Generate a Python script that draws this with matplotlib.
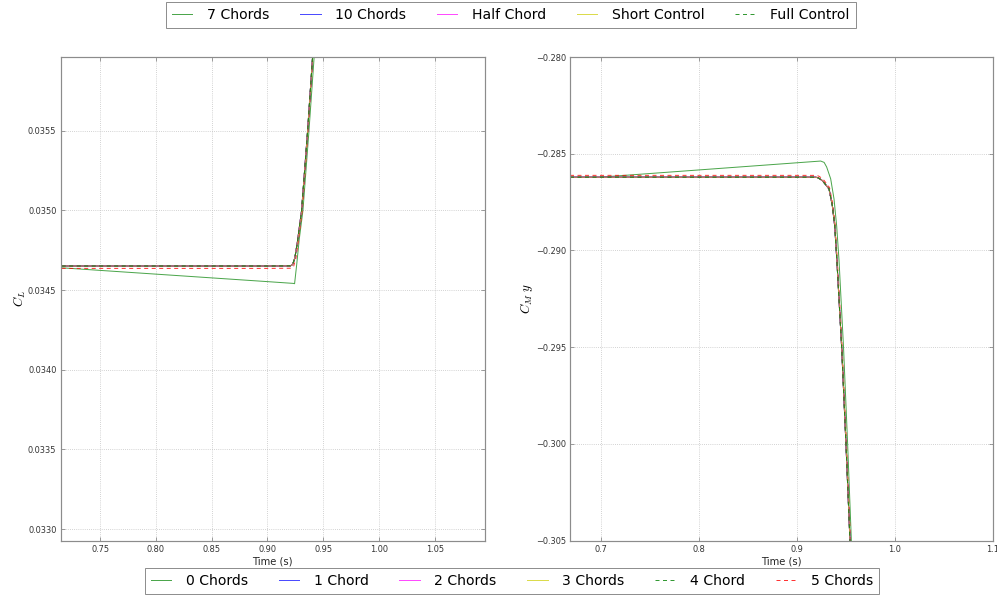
import matplotlib
matplotlib.use("Agg")
import matplotlib.pyplot as plt
from matplotlib.ticker import FuncFormatter, MultipleLocator

plt.rcParams['font.family'] = ['DejaVu Sans']
plt.rcParams['mathtext.fontset'] = 'cm'

# ---- lift coefficient traces -------------------------------------------
# shared by the converged runs (1, 2, 3, 4, 7, 10 chords, half chord, controls)
t_cl_conv = [0.6684, 0.8000, 0.9000, 0.9205, 0.9225, 0.9245, 0.9268, 0.9306, 0.9360, 0.9408, 0.9450]
cl_conv = [0.034651, 0.034651, 0.034651, 0.034652, 0.034660, 0.034700, 0.034800, 0.035000, 0.035500, 0.036000, 0.036450]

t_cl_0 = [0.7000, 0.8000, 0.9000, 0.9230, 0.9243, 0.9262, 0.9285, 0.9318, 0.9372, 0.9422, 0.9460]
cl_0 = [0.034647, 0.034600, 0.034553, 0.034542, 0.034540, 0.034660, 0.034820, 0.035000, 0.035500, 0.036000, 0.036380]

t_cl_5 = [0.6684, 0.8000, 0.9000, 0.9210, 0.9235, 0.9255, 0.9275, 0.9312, 0.9364, 0.9411, 0.9450]
cl_5 = [0.034636, 0.034636, 0.034636, 0.034637, 0.034650, 0.034700, 0.034800, 0.035000, 0.035500, 0.036000, 0.036410]

# ---- pitching moment traces --------------------------------------------
t_cm_conv = [0.6684, 0.8000, 0.9000, 0.9195, 0.9220, 0.9262, 0.9330, 0.9364, 0.9388, 0.9410, 0.9459, 0.9503, 0.9548]
cm_conv = [-0.286214, -0.286214, -0.286214, -0.286215, -0.28625, -0.28639, -0.28682, -0.28769, -0.28873, -0.29050, -0.29500, -0.30000, -0.30550]

t_cm_0 = [0.7000, 0.8000, 0.9000, 0.9245, 0.9280, 0.9306, 0.9347, 0.9381, 0.9408, 0.9432, 0.9478, 0.9520, 0.9562]
cm_0 = [-0.286210, -0.285840, -0.285470, -0.285380, -0.285450, -0.285690, -0.286300, -0.287340, -0.288730, -0.290500, -0.295000, -0.300000, -0.305500]

t_cm_5 = [0.6684, 0.8000, 0.9000, 0.9200, 0.9225, 0.9267, 0.9335, 0.9369, 0.9393, 0.9415, 0.9464, 0.9508, 0.9553]
cm_5 = [-0.286120, -0.286120, -0.286120, -0.286121, -0.28616, -0.28630, -0.28675, -0.28762, -0.28868, -0.29050, -0.29500, -0.30000, -0.30550]

# run names, line styles and which trace each run follows
bottom_names = ["0 Chords", "1 Chord", "2 Chords", "3 Chords", "4 Chord", "5 Chords"]
bottom_styles = [("g", "-"), ("b", "-"), ("m", "-"), ("y", "-"), ("g", "--"), ("r", "--")]
bottom_traces = ["0", "conv", "conv", "conv", "conv", "5"]

top_names = ["7 Chords", "10 Chords", "Half Chord", "Short Control", "Full Control"]
top_styles = [("g", "-"), ("b", "-"), ("m", "-"), ("y", "-"), ("g", "--")]
top_traces = ["conv", "conv", "conv", "conv", "conv"]

cl_data = {"conv": (t_cl_conv, cl_conv), "0": (t_cl_0, cl_0), "5": (t_cl_5, cl_5)}
cm_data = {"conv": (t_cm_conv, cm_conv), "0": (t_cm_0, cm_0), "5": (t_cm_5, cm_5)}

colors = {"g": "#008000", "b": "#0000ff", "m": "#ff00ff", "y": "#cccc00", "r": "#ff0000"}

W, H, DPI = 997, 596, 72
fig = plt.figure(figsize=(W / DPI, H / DPI), dpi=DPI)
fig.patch.set_facecolor("white")

ax_cl = fig.add_axes([60.5 / W, 1 - 540.5 / H, (484.5 - 60.5) / W, (540.5 - 57) / H])
ax_cm = fig.add_axes([570 / W, 1 - 540.5 / H, (992.5 - 570) / W, (540.5 - 57) / H])


def line_kw(style):
    c, ls = style
    kw = dict(color=colors[c], lw=1.0, alpha=0.7)
    if ls == "--":
        kw.update(ls=(0, (4, 3.5)), alpha=0.8)
    return kw


bottom_handles, top_handles = [], []
groups = [(bottom_names, bottom_styles, bottom_traces, bottom_handles),
          (top_names, top_styles, top_traces, top_handles)]
for names, styles, traces, store in groups:
    for name, style, trace in zip(names, styles, traces):
        t, v = cl_data[trace]
        (ln,) = ax_cl.plot(t, v, label=name, **line_kw(style))
        t, v = cm_data[trace]
        ax_cm.plot(t, v, label=name, **line_kw(style))
        store.append(ln)


def minus_fmt(fmt):
    return FuncFormatter(lambda v, p: fmt.format(v).replace("-", "\u2212"))


for ax in (ax_cl, ax_cm):
    ax.grid(True, color="0.75", ls=":", lw=0.8)
    ax.set_axisbelow(True)
    for sp in ax.spines.values():
        sp.set_color("0.55")
        sp.set_linewidth(1.2)
    ax.tick_params(direction="in", top=True, right=True, length=4, width=0.6,
                   color="0.4", labelsize=8.3, labelcolor="0.2", pad=4)
    ax.set_xlabel("Time (s)", fontsize=10, color="0.15", labelpad=3)

ax_cl.set_xlim(0.7144, 1.0946)
ax_cl.set_ylim(0.032928, 0.035963)
ax_cl.xaxis.set_major_locator(MultipleLocator(0.05))
ax_cl.yaxis.set_major_locator(MultipleLocator(0.0005))
ax_cl.xaxis.set_major_formatter(minus_fmt("{:.2f}"))
ax_cl.yaxis.set_major_formatter(minus_fmt("{:.4f}"))
ax_cl.set_ylabel("$C_L$", fontsize=13)
ax_cl.yaxis.set_label_coords(-0.077, 0.5)

ax_cm.set_xlim(0.6684, 1.1)
ax_cm.set_ylim(-0.305, -0.280)
ax_cm.xaxis.set_major_locator(MultipleLocator(0.1))
ax_cm.yaxis.set_major_locator(MultipleLocator(0.005))
ax_cm.xaxis.set_major_formatter(minus_fmt("{:.1f}"))
ax_cm.yaxis.set_major_formatter(minus_fmt("{:.3f}"))
ax_cm.set_ylabel("$C_M\\ y$", fontsize=13)
ax_cm.yaxis.set_label_coords(-0.083, 0.5)

leg_kw = dict(fontsize=14, frameon=True, fancybox=False, handlelength=1.45,
              handletextpad=1.05, columnspacing=2.2, borderpad=0.42, borderaxespad=0.0)

leg_top = fig.legend(top_handles, top_names, ncol=5,
                     loc="upper center", bbox_to_anchor=(0.5125, 1 - 2 / H), **leg_kw)
leg_bot = fig.legend(bottom_handles, bottom_names, ncol=6,
                     loc="lower center", bbox_to_anchor=(0.5135, 2 / H), **leg_kw)
for leg in (leg_top, leg_bot):
    leg.get_frame().set_edgecolor("0.45")
    leg.get_frame().set_linewidth(1.0)

fig.savefig("out.png", dpi=DPI, facecolor="white")
